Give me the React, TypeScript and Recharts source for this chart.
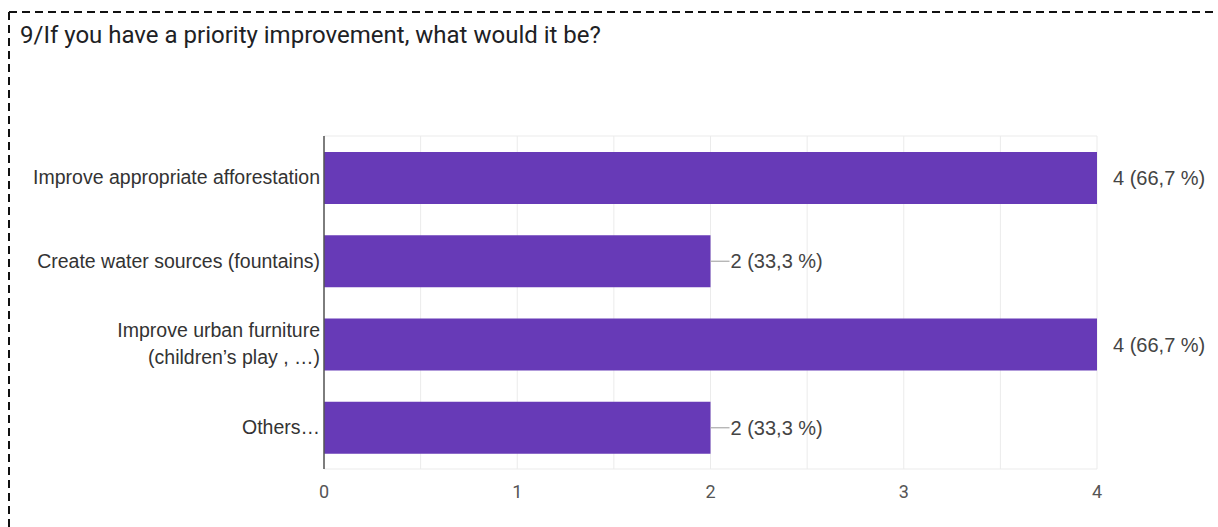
import React from "react";
import {
  BarChart,
  Bar,
  XAxis,
  YAxis,
  CartesianGrid,
  LabelList,
} from "recharts";

const categories = [
  "Improve appropriate afforestation",
  "Create water sources (fountains)",
  "Improve urban furniture\n(children’s play , …)",
  "Others…",
];
const counts = [4, 2, 4, 2];
const percents = ["66,7", "33,3", "66,7", "33,3"];
const xTicks = [0, 0.5, 1, 1.5, 2, 2.5, 3, 3.5, 4];

const title = "9/If you have a priority improvement, what would it be?";

const data = categories.map((name, i) => ({
  name,
  value: counts[i],
  label: `${counts[i]} (${percents[i]} %)`,
}));

const maxCount = Math.max(...counts);

const CategoryTick = (props: any) => {
  const { x, y, payload } = props;
  const lines = String(payload.value).split("\n");
  const lh = 27;
  const tx = x + 4;
  const y0 = y - ((lines.length - 1) * lh) / 2;
  return (
    <text
      x={tx}
      y={y0}
      textAnchor="end"
      fill="#333"
      fontSize={19.5}
      fontFamily="'Liberation Sans', Arial, sans-serif"
    >
      {lines.map((l, i) => (
        <tspan key={i} x={tx} y={y0 + i * lh} dy="0.35em">
          {l}
        </tspan>
      ))}
    </text>
  );
};

const ValueTick = (props: any) => {
  const { x, y, payload } = props;
  if (!Number.isInteger(payload.value)) return null;
  return (
    <text
      x={x}
      y={y + 15}
      dy="0.35em"
      textAnchor="middle"
      fill="#555"
      fontSize={18}
      fontFamily="Roboto, sans-serif"
    >
      {payload.value}
    </text>
  );
};

const ValueLabel = (props: any) => {
  const { x, y, width, height, value, index } = props;
  const end = x + width;
  const cy = y + height / 2;
  const withLine = counts[index] < maxCount;
  return (
    <g>
      {withLine && (
        <line x1={end} y1={cy} x2={end + 19} y2={cy} stroke="#aaa" strokeWidth={1.2} />
      )}
      <text
        x={withLine ? end + 20 : end + 16}
        y={cy}
        dy="0.35em"
        fill="#444"
        fontSize={20}
        fontFamily="'Liberation Sans', Arial, sans-serif"
      >
        {value}
      </text>
    </g>
  );
};

export default function App() {
  return (
    <div
      style={{
        position: "absolute",
        left: 0,
        top: 0,
        width: 1218,
        height: 527,
        background: "#fff",
        overflow: "hidden",
      }}
    >
      <svg
        width={1218}
        height={527}
        style={{ position: "absolute", left: 0, top: 0 }}
      >
        <line x1={9} y1={12} x2={1218} y2={12} stroke="#111" strokeWidth={2} strokeDasharray="8 5" />
        <line x1={9} y1={12} x2={9} y2={527} stroke="#111" strokeWidth={2} strokeDasharray="8 5" />
      </svg>
      <div
        style={{
          position: "absolute",
          left: 20,
          top: 21,
          fontFamily: "Roboto, sans-serif",
          fontSize: 24,
          color: "#202124",
          whiteSpace: "nowrap",
        }}
      >
        {title}
      </div>
      <div style={{ position: "absolute", left: 0, top: 0 }}>
        <BarChart
          width={1218}
          height={527}
          data={data}
          layout="vertical"
          margin={{ top: 136, right: 121, bottom: 28, left: 8 }}
        >
          <CartesianGrid
            stroke="#ebebeb"
            vertical
            horizontal
            horizontalPoints={[136, 469]}
          />
          <XAxis
            type="number"
            domain={[0, 4]}
            ticks={xTicks}
            interval={0}
            axisLine={false}
            tickLine={false}
            tick={<ValueTick />}
            height={30}
          />
          <YAxis
            type="category"
            dataKey="name"
            width={316}
            axisLine={{ stroke: "#555", strokeWidth: 1.5 }}
            tickLine={false}
            tick={<CategoryTick />}
            tickMargin={2}
          />
          <Bar dataKey="value" fill="#673ab7" barSize={52} isAnimationActive={false}>
            <LabelList dataKey="label" content={<ValueLabel />} />
          </Bar>
        </BarChart>
      </div>
    </div>
  );
}
